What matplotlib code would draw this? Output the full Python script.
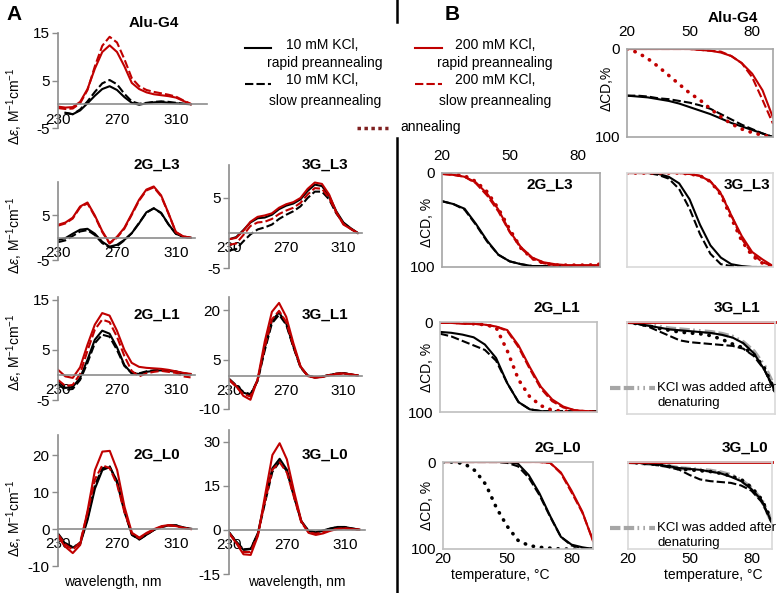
import numpy as np
import matplotlib.pyplot as plt
from matplotlib.lines import Line2D

plt.rcParams['font.family'] = ['Liberation Sans', 'DejaVu Sans']
plt.rcParams['font.size'] = 10
plt.rcParams['axes.unicode_minus'] = False
plt.rcParams['mathtext.fontset'] = 'custom'
plt.rcParams['mathtext.rm'] = 'Liberation Sans'
plt.rcParams['mathtext.it'] = 'Liberation Sans:italic'

RED = '#c00000'
GREY = '#8c8c8c'
nan = float('nan')

# ---- panel A: CD spectra, delta epsilon vs wavelength ----
wl = [230, 235, 240, 245, 250, 255, 260, 265, 270, 275, 280, 285, 290, 295, 300, 305, 310, 315, 320]

alu_10r = [nan, -1.8, -2.1, -1.3, 0.2, 1.8, 3.2, 3.8, 3.0, 1.5, 0.3, -0.1, 0.2, 0.4, 0.5, 0.3, 0.2, 0.1, 0.0]
alu_10s = [nan, -1.8, -2.1, -1.1, 0.6, 2.6, 4.4, 5.1, 4.2, 2.2, 0.6, 0.1, 0.3, 0.5, 0.6, 0.5, 0.3, 0.1, 0.0]
alu_200r = [-0.5, -0.7, -0.6, 0.5, 3.2, 7.5, 11.0, 12.4, 11.0, 8.0, 4.5, 3.2, 2.5, 2.1, 1.9, 1.7, 1.4, 0.7, 0.0]
alu_200s = [-0.8, -1.0, -0.9, 0.2, 3.0, 8.0, 12.3, 14.2, 13.0, 9.5, 5.5, 3.8, 3.0, 2.6, 2.3, 2.0, 1.6, 0.8, 0.1]

g2l3_10r = [-0.5, -0.1, 0.9, 1.8, 2.0, 0.9, -0.9, -2.0, -1.6, -0.5, 1.0, 3.2, 5.7, 6.6, 5.6, 3.0, 0.9, 0.2, 0.0]
g2l3_10s = [-1.0, -0.6, 0.4, 1.4, 1.7, 0.6, -1.2, -2.2, -1.9, -0.6, 1.0, 3.3, 5.6, 6.6, 5.5, 3.0, 0.9, 0.2, 0.0]
g2l3_200r = [2.9, 3.4, 4.5, 7.0, 7.9, 5.0, 1.5, -1.2, 0.2, 2.2, 5.3, 8.5, 10.8, 11.5, 9.5, 5.5, 1.3, 0.3, 0.0]
g2l3_200s = [2.7, 3.2, 4.3, 6.8, 7.7, 4.8, 1.3, -1.3, 0.0, 2.0, 5.1, 8.3, 10.6, 11.3, 9.3, 5.4, 1.2, 0.3, 0.0]

g3l3_10r = [-0.9, -0.6, 0.4, 1.5, 2.1, 2.2, 2.6, 3.4, 3.9, 4.2, 4.8, 6.0, 6.9, 6.7, 5.3, 3.1, 1.5, 0.7, 0.0]
g3l3_10s = [-2.5, -2.3, -1.2, -0.2, 0.5, 0.8, 1.2, 2.0, 2.6, 3.1, 3.8, 5.0, 5.9, 5.9, 4.8, 2.8, 1.4, 0.6, 0.0]
g3l3_200r = [-0.9, -0.7, 0.3, 1.6, 2.3, 2.5, 2.8, 3.6, 4.1, 4.4, 5.0, 6.3, 7.2, 7.0, 5.5, 3.0, 1.2, 0.6, 0.0]
g3l3_200s = [-1.7, -1.5, -0.3, 1.0, 1.5, 1.6, 2.0, 2.7, 3.2, 3.6, 4.3, 5.5, 6.4, 6.3, 5.0, 2.9, 1.3, 0.6, 0.0]

g2l1_10r = [-1.2, -2.6, -2.4, -0.6, 3.0, 7.0, 8.8, 8.2, 5.5, 2.0, 0.3, 0.2, 0.6, 0.8, 0.9, 0.8, 0.6, 0.3, 0.1]
g2l1_10s = [-1.8, -3.0, -2.8, -1.0, 2.4, 6.3, 8.0, 7.6, 5.0, 1.8, 0.4, 0.3, 0.7, 0.9, 1.0, 0.9, 0.7, 0.3, 0.1]
g2l1_200r = [1.0, -0.3, -0.6, 1.5, 6.0, 10.0, 12.3, 11.8, 8.8, 5.0, 2.4, 1.6, 1.4, 1.3, 1.2, 1.0, 0.7, 0.4, 0.2]
g2l1_200s = [-1.0, -2.2, -2.0, 0.2, 4.8, 9.0, 11.0, 10.5, 7.6, 3.8, 0.8, -0.3, 0.3, 0.6, 0.8, 0.6, 0.4, -0.3, -0.5]

g3l1_10r = [-1.0, -3.0, -5.0, -5.8, -1.2, 8.5, 16.8, 19.3, 16.0, 9.0, 2.8, 0.2, -0.4, -0.2, 0.3, 0.7, 0.9, 0.5, 0.2]
g3l1_10s = [-0.8, -2.8, -4.8, -5.5, -1.5, 7.8, 16.0, 18.6, 15.6, 8.8, 2.6, 0.1, -0.4, -0.2, 0.3, 0.7, 0.9, 0.5, 0.2]
g3l1_200r = [-1.0, -3.0, -6.0, -7.2, -1.0, 10.5, 19.5, 22.2, 18.0, 10.0, 3.0, 0.0, -0.5, -0.3, 0.2, 0.6, 0.8, 0.5, 0.2]
g3l1_200s = [-1.2, -3.2, -5.5, -6.2, -1.2, 8.8, 17.2, 19.8, 16.4, 9.2, 2.8, 0.1, -0.4, -0.2, 0.3, 0.7, 0.8, 0.5, 0.2]

g2l0_10r = [-1.5, -4.0, -5.0, -4.0, 2.5, 11.0, 16.0, 16.8, 13.0, 5.0, -1.5, -2.8, -1.5, -0.2, 0.6, 1.0, 1.0, 0.4, 0.1]
g2l0_10s = [-1.2, -3.8, -4.9, -3.8, 3.0, 12.0, 16.5, 17.0, 12.5, 4.6, -1.6, -2.8, -1.5, -0.2, 0.6, 1.0, 1.0, 0.4, 0.1]
g2l0_200r = [-2.1, -4.8, -6.5, -4.3, 5.0, 16.0, 21.0, 21.2, 16.0, 6.0, -1.0, -2.3, -1.0, 0.0, 0.8, 1.1, 0.8, 0.3, 0.0]
g2l0_200s = [-1.5, -4.2, -5.6, -3.5, 4.5, 13.5, 17.3, 16.5, 12.0, 4.5, -1.2, -2.5, -1.2, -0.2, 0.6, 1.0, 0.8, 0.3, 0.0]

g3l0_10r = [-0.8, -4.0, -6.8, -6.5, -1.0, 10.5, 21.0, 24.2, 20.5, 11.5, 3.0, -0.3, -0.8, -0.2, 0.5, 1.0, 1.0, 0.5, 0.1]
g3l0_10s = [-0.8, -4.0, -6.6, -6.4, -1.3, 9.5, 19.8, 23.2, 20.0, 11.2, 2.8, -0.4, -0.8, -0.3, 0.4, 0.9, 0.9, 0.5, 0.1]
g3l0_200r = [-1.1, -4.5, -8.3, -8.5, -2.0, 12.0, 25.5, 29.5, 24.0, 13.0, 3.0, -1.0, -1.7, -1.2, -0.3, 0.3, 0.5, 0.3, 0.1]
g3l0_200s = [-1.0, -4.2, -7.5, -7.5, -1.5, 10.0, 20.5, 23.0, 19.5, 11.0, 2.5, -0.8, -1.3, -0.8, -0.1, 0.4, 0.5, 0.3, 0.1]

# ---- panel B: melting curves, delta CD % vs temperature ----
temp = [20, 25, 30, 35, 40, 45, 50, 55, 60, 65, 70, 75, 80, 85, 90]

m_alu_10r = [53, 54, 55, 57, 59, 62, 66, 70, 74, 79, 84, 88, 92, 96, 100]
m_alu_10s = [53, 53, 54, 56, 57, 59, 61, 64, 68, 74, 80, 86, 91, 96, 100]
m_alu_200r = [0, 0, 0, 0, 0, 0, 0, 1, 2, 4, 8, 16, 28, 47, 78]
m_alu_200s = [0, 0, 0, 0, 0, 0, 0, 1, 2, 3, 8, 16, 32, 58, 85]
m_alu_ann = [0, 4, 11, 20, 30, 40, 50, 58, 68, 77, 85, 91, 95, 98, 100]

m_g2l3_10r = [30, 33, 38, 54, 72, 87, 94, 97, 99, 99, 100, 100, 100, 100, 100]
m_g2l3_10s = [30, 33, 39, 55, 73, 87, 94, 97, 99, 99, 99, 99, 99, 99, 99]
m_g2l3_200r = [1, 2, 4, 10, 22, 39, 62, 79, 90, 95, 97, 98, 98, 98, 98]
m_g2l3_200s = [1, 2, 4, 11, 24, 41, 63, 80, 91, 96, 98, 99, 99, 99, 99]
m_g2l3_ann = [0, 1, 3, 9, 20, 38, 60, 80, 91, 96, 98, 98, 98, 98, 97]

m_g3l3_10r = [0, 0, 0, 1, 4, 11, 28, 55, 77, 90, 97, 99, 100, 100, 100]
m_g3l3_10s = [0, 0, 0, 2, 6, 17, 38, 65, 86, 97, 99, 100, 100, 100, 100]
m_g3l3_200r = [0, 0, 0, 0, 0, 0, 1, 3, 9, 22, 45, 67, 84, 92, 99]
m_g3l3_200s = [0, 0, 0, 0, 0, 0, 1, 3, 9, 21, 45, 70, 86, 95, 99]
m_g3l3_ann = [0, 0, 0, 0, 0, 0, 1, 3, 9, 23, 48, 72, 88, 96, 100]

m_g2l1_10r = [11, 12, 14, 17, 25, 40, 68, 89, 97, 99, 100, 100, 100, 100, 100]
m_g2l1_10s = [13, 16, 21, 26, 31, 43, 68, 89, 97, 99, 99, 99, 99, 99, 99]
m_g2l1_200r = [1, 1, 2, 2, 3, 5, 9, 26, 50, 72, 86, 94, 98, 99, 100]
m_g2l1_200s = [1, 1, 1, 2, 3, 5, 10, 28, 52, 74, 88, 95, 98, 99, 100]
m_g2l1_ann = [0, 0, 1, 2, 3, 6, 32, 64, 83, 93, 98, 99, 100, 100, 100]

m_g3l1_200r = [0, 0, 0, 0, 0, 0, 0, 0, 0, 0, 0, 0, 0, 0, 0]
m_g3l1_10r = [0, 2, 4, 6, 8, 9, 10, 11, 12, 14, 17, 23, 34, 52, 75]
m_g3l1_10s = [0, 2, 5, 10, 15, 20, 22, 23, 24, 25, 26, 29, 37, 52, 76]
m_g3l1_ann = [0, 2, 4, 7, 9, 11, 12, 13, 15, 19, 24, 28, 35, 50, 75]
m_g3l1_add = [0, 1, 3, 5, 7, 8, 9, 10, 11, 13, 16, 22, 32, 48, 72]

m_g2l0_10r = [0, 0, 0, 0, 0, 0, 0, 2, 15, 36, 62, 86, 95, 98, 100]
m_g2l0_10s = [0, 0, 0, 0, 0, 0, 1, 5, 18, 38, 63, 86, 96, 99, 100]
m_g2l0_200r = [0, 0, 0, 0, 0, 0, 0, 0, 0, 0, 1, 12, 33, 57, 91]
m_g2l0_200s = [0, 0, 0, 0, 0, 0, 0, 0, 0, 0, 1, 13, 35, 58, 90]
m_g2l0_ann = [0, 0, 2, 10, 26, 53, 74, 90, 96, 98, 99, 100, 100, 100, 100]

m_g3l0_200r = [0, 0, 0, 0, 0, 0, 0, 0, 0, 0, 0, 0, 0, 0, 0]
m_g3l0_10r = [0, 1, 2, 3, 5, 7, 8, 9, 11, 13, 17, 22, 31, 44, 70]
m_g3l0_10s = [0, 1, 2, 4, 6, 9, 15, 20, 22, 23, 24, 27, 33, 46, 70]
m_g3l0_ann = [0, 1, 2, 3, 5, 8, 9, 10, 11, 13, 16, 20, 29, 43, 68]
m_g3l0_add = [0, 1, 2, 3, 5, 7, 8, 9, 10, 12, 15, 21, 30, 44, 69]

# line styles
k10r = dict(color='black', lw=1.5)
k10s = dict(color='black', lw=1.5, ls=(0, (4, 1.5)))
k200r = dict(color=RED, lw=1.5)
k200s = dict(color=RED, lw=1.5, ls=(0, (4, 1.5)))
ann_red = dict(color=RED, lw=2.6, ls=(0, (0.1, 2.2)), dash_capstyle='round')
ann_blk = dict(color='black', lw=2.6, ls=(0, (0.1, 2.2)), dash_capstyle='round')
added = dict(color='#a6a6a6', lw=3, ls=(0, (2.5, 0.8, 2.5, 0.8, 0.4, 1, 0.4, 1)))

W, H = 777, 593
fig = plt.figure(figsize=(W / 100, H / 100), dpi=100)


def box(x0, y0, x1, y1):
    # axes from pixel box (top-left origin)
    return fig.add_axes([x0 / W, 1 - y1 / H, (x1 - x0) / W, (y1 - y0) / H])


def ftext(x, y, s, **kw):
    kw.setdefault('ha', 'center')
    kw.setdefault('va', 'center')
    return fig.text(x / W, 1 - y / H, s, **kw)


def spectrum(px, xlim, ylim, yticks, curves):
    ax = box(*px)
    for y, st in curves:
        ax.plot(wl, y, **st)
    ax.set_xlim(*xlim)
    ax.set_ylim(*ylim)
    ax.set_xticks([230, 270, 310])
    ax.set_yticks(yticks)
    for s in ['top', 'right']:
        ax.spines[s].set_visible(False)
    ax.spines['bottom'].set_position(('data', 0))
    for s in ['left', 'bottom']:
        ax.spines[s].set_color(GREY)
        ax.spines[s].set_linewidth(1.2)
    ax.tick_params(axis='x', length=0, pad=6, labelsize=11)
    ax.tick_params(axis='y', length=4, width=1, color=GREY, pad=2, labelsize=11)
    ax.patch.set_visible(False)
    return ax


def melt(px, curves, xlab=None, ylab=True, frame='#bfbfbf'):
    ax = box(*px)
    for y, st in curves:
        ax.plot(temp, y, **st)
    ax.set_xlim(20, 90)
    ax.set_ylim(100, 0)
    ax.set_xticks([20, 50, 80])
    ax.set_yticks([0, 100])
    for s in ax.spines.values():
        s.set_color(frame)
        s.set_linewidth(1.2)
    ax.tick_params(length=0, labelsize=11)
    ax.tick_params(axis='x', labelbottom=(xlab == 'bottom'), labeltop=(xlab == 'top'),
                   pad=7 if xlab == 'top' else 2)
    ax.tick_params(axis='y', labelleft=ylab, pad=5)
    return ax


four = lambda a, b, c, d: [(a, k10r), (b, k10s), (c, k200r), (d, k200s)]

# panel A
spectrum((58, 33, 207, 128), (230, 331), (-5, 15), [-5, 5, 15],
         four(alu_10r, alu_10s, alu_200r, alu_200s))
spectrum((58, 182, 195, 260), (230, 323), (-5, 12.5), [-5, 5],
         four(g2l3_10r, g2l3_10s, g2l3_200r, g2l3_200s))
spectrum((229, 165, 362, 268), (230, 323), (-5, 9.7), [-5, 5],
         four(g3l3_10r, g3l3_10s, g3l3_200r, g3l3_200s))
spectrum((58, 297, 195, 400), (230, 323), (-5, 15.5), [-5, 5, 15],
         four(g2l1_10r, g2l1_10s, g2l1_200r, g2l1_200s))
spectrum((229, 297, 362, 409), (230, 323), (-10, 24), [-10, 5, 20],
         four(g3l1_10r, g3l1_10s, g3l1_200r, g3l1_200s))
spectrum((58, 435, 197, 566), (230, 324), (-10, 25.5), [-10, 0, 10, 20],
         four(g2l0_10r, g2l0_10s, g2l0_200r, g2l0_200s))
spectrum((229, 430, 365, 574), (230, 324), (-15, 34), [-15, 0, 15, 30],
         four(g3l0_10r, g3l0_10s, g3l0_200r, g3l0_200s))

eps = 'Δ$\\mathit{ε}$, M$^{-1}$cm$^{-1}$'
for y in [106, 235, 352, 518]:
    ftext(15, y, eps, rotation=90, fontsize=10)

for x, y, s in [(154, 23, 'Alu-G4'), (157, 165, '2G_L3'), (325, 165, '3G_L3'),
                (157, 315, '2G_L1'), (325, 315, '3G_L1'), (157, 455, '2G_L0'),
                (325, 455, '3G_L0')]:
    ftext(x, y, s, fontsize=11, fontweight='bold')
ftext(113, 582, 'wavelength, nm', fontsize=10)
ftext(297, 582, 'wavelength, nm', fontsize=10)

# panel B
melt((627, 49, 773, 137), four(m_alu_10r, m_alu_10s, m_alu_200r, m_alu_200s) + [(m_alu_ann, ann_red)],
     xlab='top', frame='#a6a6a6')
melt((442, 173, 600, 267), four(m_g2l3_10r, m_g2l3_10s, m_g2l3_200r, m_g2l3_200s) + [(m_g2l3_ann, ann_red)],
     xlab='top', frame='#a6a6a6')
melt((627, 173, 773, 267), four(m_g3l3_10r, m_g3l3_10s, m_g3l3_200r, m_g3l3_200s) + [(m_g3l3_ann, ann_red)],
     ylab=False, frame='#d9d9d9')
melt((440, 322, 597, 412), four(m_g2l1_10r, m_g2l1_10s, m_g2l1_200r, m_g2l1_200s) + [(m_g2l1_ann, ann_red)])
ax31 = melt((627, 322, 775, 414), [(m_g3l1_add, added), (m_g3l1_10r, k10r), (m_g3l1_10s, k10s),
                                   (m_g3l1_ann, ann_blk)], ylab=False, frame='#d9d9d9')
ax31.plot(temp, m_g3l1_200r, color=RED, lw=2, clip_on=False)
melt((443, 462, 593, 549), four(m_g2l0_10r, m_g2l0_10s, m_g2l0_200r, m_g2l0_200s) + [(m_g2l0_ann, ann_blk)],
     xlab='bottom')
ax30 = melt((628, 462, 772, 549), [(m_g3l0_add, added), (m_g3l0_10r, k10r), (m_g3l0_10s, k10s),
                                   (m_g3l0_ann, ann_blk)], xlab='bottom', ylab=False, frame='#d9d9d9')
ax30.plot(temp, m_g3l0_200r, color=RED, lw=2, clip_on=False)

ftext(607, 88, 'ΔCD,%', rotation=90, fontsize=10)
for y in [222, 367, 505]:
    ftext(427, y, 'ΔCD, %', rotation=90, fontsize=10)
for x, y, s in [(733, 18, 'Alu-G4'), (550, 185, '2G_L3'), (747, 185, '3G_L3'),
                (557, 308, '2G_L1'), (737, 308, '3G_L1'), (558, 448, '2G_L0'),
                (745, 448, '3G_L0')]:
    ftext(x, y, s, fontsize=11, fontweight='bold')
ftext(500, 575, 'temperature, °C', fontsize=10)
ftext(713, 575, 'temperature, °C', fontsize=10)

# "KCl was added after denaturing" keys
for y in [388, 528]:
    fig.add_artist(Line2D([610 / W, 655 / W], [1 - y / H] * 2, transform=fig.transFigure, **added))
    ftext(657, y, 'KCl was added after', ha='left', fontsize=9.5)
    ftext(658, y + 15, 'denaturing', ha='left', fontsize=9.5)


# main legend
def key(x0, x1, y, st):
    fig.add_artist(Line2D([x0 / W, x1 / W], [1 - y / H] * 2, transform=fig.transFigure, **st))


key(245, 271, 48, k10r)
key(245, 271, 84, k10s)
key(415, 442, 48, k200r)
key(415, 442, 84, k200s)
key(357, 388, 128, dict(color='#7f2020', lw=2.5, ls=(0, (1, 1))))
ftext(322, 45, '10 mM KCl,')
ftext(325, 63, 'rapid preannealing')
ftext(322, 80, '10 mM KCl,')
ftext(325, 101, 'slow preannealing')
ftext(495, 45, '200 mM KCl,')
ftext(495, 63, 'rapid preannealing')
ftext(495, 80, '200 mM KCl,')
ftext(495, 101, 'slow preannealing')
ftext(400, 127, 'annealing', ha='left')

# panel letters and divider
ftext(14, 15, 'A', fontsize=15, fontweight='bold')
ftext(452, 15, 'B', fontsize=15, fontweight='bold')
fig.add_artist(Line2D([397 / W] * 2, [1, 1 - 22 / H], transform=fig.transFigure, color='black', lw=1.8))
fig.add_artist(Line2D([397 / W] * 2, [1 - 138 / H, 0], transform=fig.transFigure, color='black', lw=1.8))

fig.savefig('out.png', dpi=100)
